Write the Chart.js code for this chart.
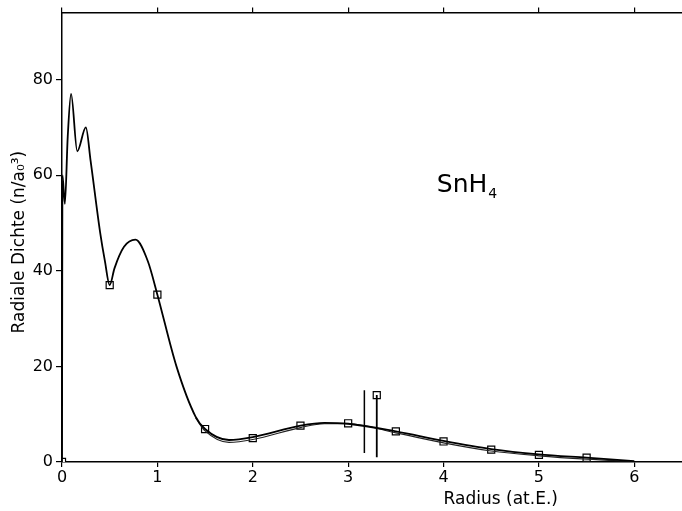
<!DOCTYPE html>
<html><head><meta charset="utf-8">
<script src="https://cdn.jsdelivr.net/npm/chart.js@4/dist/chart.umd.min.js"></script>
<style>html,body{margin:0;padding:0;background:#fff}canvas{display:block}</style>
</head><body><canvas id="c" width="682" height="511"></canvas>
<script>
// Main radial density curve (radius, density)
const curveX = [0, 0.005, 0.03, 0.06, 0.095, 0.16, 0.25, 0.3, 0.4, 0.45, 0.5, 0.55, 0.65, 0.77, 0.9, 1.0, 1.2, 1.4, 1.5, 1.75, 2.0, 2.5, 2.75, 3.0, 3.5, 4.0, 4.5, 5.0, 5.5, 6.0];
const curveY = [0, 60, 54, 68, 77, 65, 70, 63, 48, 42, 37, 40.5, 45, 46.5, 42, 35, 20, 9.5, 6.9, 4.6, 5.2, 7.6, 8.2, 8.0, 6.4, 4.4, 2.7, 1.6, 0.9, 0.2];
// Second (nearly coincident) curve
const curve2X = [1.4, 1.5, 1.75, 2.0, 2.5, 2.75, 3.0, 3.5, 4.0, 4.5, 5.0, 5.5, 6.0];
const curve2Y = [9.2, 6.5, 4.1, 4.7, 7.2, 8.0, 8.0, 6.1, 4.0, 2.3, 1.3, 0.6, 0.1];
// Square markers
const markX = [0, 0.5, 1.0, 1.5, 2.0, 2.5, 3.0, 3.5, 4.0, 4.5, 5.0, 5.5, 3.3];
const markY = [0, 37, 35, 6.9, 5.0, 7.6, 8.1, 6.4, 4.3, 2.6, 1.5, 0.9, 14];
// Vertical bars
const bar1X = [3.17, 3.17], bar1Y = [1.9, 15];
const bar2X = [3.3, 3.3], bar2Y = [1.0, 14];
const xTicks = [0, 1, 2, 3, 4, 5, 6];
const yTicks = [0, 20, 40, 60, 80];

const pts = (xs, ys) => xs.map((x, i) => ({x, y: ys[i]}));
const FONT = 'DejaVu Sans';

const textPlugin = {
  id: 'texts',
  afterDraw(chart) {
    const ctx = chart.ctx, xs = chart.scales.x, ys = chart.scales.y;
    ctx.save();
    ctx.fillStyle = '#000';
    ctx.font = '17px "' + FONT + '"';
    ctx.textAlign = 'center'; ctx.textBaseline = 'middle';
    ctx.fillText('Radius (at.E.)', xs.getPixelForValue(4.6), 500);
    ctx.save();
    ctx.translate(20, ys.getPixelForValue(46));
    ctx.rotate(-Math.PI / 2);
    ctx.fillText('Radiale Dichte (n/a\u2080\u00b3)', 0, 0);
    ctx.restore();
    ctx.font = '25px "' + FONT + '"';
    ctx.textAlign = 'left'; ctx.textBaseline = 'alphabetic';
    const lx = xs.getPixelForValue(3.93), ly = ys.getPixelForValue(56.5);
    ctx.fillText('SnH', lx, ly);
    const w = ctx.measureText('SnH').width;
    ctx.font = '14px "' + FONT + '"';
    ctx.fillText('4', lx + w + 1, ly + 6);
    ctx.restore();
  }
};

const fitX = h => s => { s.height = h; s.paddingLeft = 0; s.paddingRight = 0; };

new Chart(document.getElementById('c'), {
  type: 'scatter',
  data: {
    datasets: [
      {data: pts(curveX, curveY), showLine: true, borderColor: '#000', borderWidth: 1.8, pointRadius: 0, tension: 0.4, cubicInterpolationMode: 'monotone'},
      {data: pts(curve2X, curve2Y), showLine: true, borderColor: '#222', borderWidth: 1.2, pointRadius: 0, tension: 0.4, cubicInterpolationMode: 'monotone'},
      {data: pts(bar1X, bar1Y), showLine: true, borderColor: '#000', borderWidth: 1.5, pointRadius: 0},
      {data: pts(bar2X, bar2Y), showLine: true, borderColor: '#000', borderWidth: 1.8, pointRadius: 0},
      {data: pts(markX, markY), showLine: false, pointStyle: 'rect', pointRadius: 5, borderColor: '#000', borderWidth: 1.2, backgroundColor: '#fff'}
    ]
  },
  options: {
    responsive: false, animation: false, maintainAspectRatio: false,
    layout: {padding: 0, autoPadding: false},
    plugins: {legend: {display: false}, tooltip: {enabled: false}},
    scales: {
      x: {
        type: 'linear', position: 'bottom', min: 0, max: 6.5,
        afterBuildTicks: s => { s.ticks = xTicks.map(v => ({value: v})); },
        afterFit: fitX(49),
        grid: {drawOnChartArea: false, drawTicks: true, tickLength: 5, color: '#000', lineWidth: 1.2},
        border: {color: '#000', width: 1.5},
        ticks: {color: '#000', font: {family: FONT, size: 16}, padding: 1, maxRotation: 0, autoSkip: false}
      },
      x2: {
        type: 'linear', position: 'top', min: 0, max: 6.5,
        afterBuildTicks: s => { s.ticks = xTicks.map(v => ({value: v})); },
        afterFit: fitX(11),
        grid: {drawOnChartArea: false, drawTicks: true, tickLength: 5, color: '#000', lineWidth: 1.2},
        border: {color: '#000', width: 1.5},
        ticks: {display: false}
      },
      y: {
        type: 'linear', min: 0, max: 94,
        afterBuildTicks: s => { s.ticks = yTicks.map(v => ({value: v})); },
        afterFit: s => { s.width = 62; },
        grid: {drawOnChartArea: false, drawTicks: true, tickLength: 6, color: '#000', lineWidth: 1.2},
        border: {color: '#000', width: 1.5},
        ticks: {color: '#000', font: {family: FONT, size: 16}, padding: 3, autoSkip: false}
      }
    }
  },
  plugins: [textPlugin]
});
</script></body></html>
